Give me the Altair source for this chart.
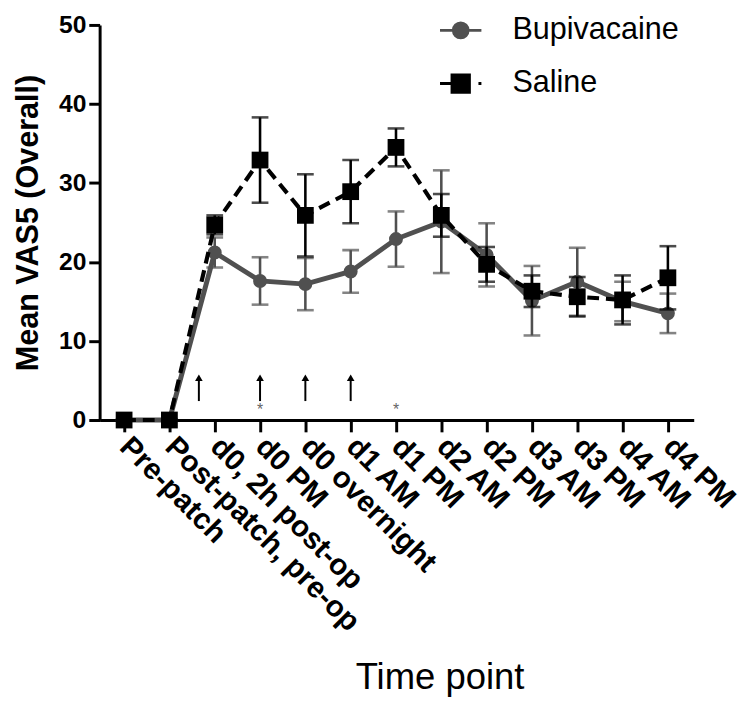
import altair as alt
import pandas as pd

# ---- data ----
timepoints = ["Pre-patch", "Post-patch, pre-op", "d0, 2h post-op", "d0 PM",
              "d0 overnight", "d1 AM", "d1 PM", "d2 AM", "d2 PM", "d3 AM",
              "d3 PM", "d4 AM", "d4 PM"]
bupi_mean = [0, 0, 21.2, 17.6, 17.2, 18.8, 22.9, 25.1, 20.9, 15.1, 17.5, 15.0, 13.5]
bupi_err = [0, 0, 1.9, 3.0, 3.3, 2.7, 3.5, 6.5, 4.0, 4.4, 4.3, 2.5, 2.5]
saline_mean = [0, 0, 24.7, 32.9, 25.9, 28.9, 34.5, 25.9, 19.7, 16.3, 15.6, 15.2, 18.0]
saline_err = [0, 0, 1.2, 5.4, 5.2, 4.0, 2.4, 2.7, 2.2, 2.0, 2.5, 3.1, 4.0]
series_names = ["Bupivacaine", "Saline"]
series_colors = ["#505050", "#000000"]
arrow_pos = [1.65, 3, 4, 5]
arrow_bottom = [2.4, 2.4, 2.4, 2.4]
arrow_top = [5.2, 5.2, 5.2, 5.2]
arrow_head = [5.35, 5.35, 5.35, 5.35]
star_pos = [3, 6]
star_y = [1.2, 1.2]

FONT = "Liberation Sans"


def frame(mean, err):
    return pd.DataFrame({
        "idx": list(range(len(timepoints))),
        "mean": mean,
        "lo": [m - e for m, e in zip(mean, err)],
        "hi": [m + e for m, e in zip(mean, err)],
    })


bupi_df = frame(bupi_mean, bupi_err)
sal_df = frame(saline_mean, saline_err)
arrow_df = pd.DataFrame({"idx": arrow_pos, "lo": arrow_bottom, "hi": arrow_top, "head": arrow_head})
star_df = pd.DataFrame({"idx": star_pos, "y": star_y})
legend_df = pd.DataFrame({"series": series_names})

label_expr = "[" + ",".join("'" + t + "'" for t in timepoints) + "][datum.value]"

x_enc = alt.X(
    "idx:Q",
    scale=alt.Scale(domain=[-0.54, 12.57], nice=False, zero=False),
    axis=alt.Axis(
        values=list(range(len(timepoints))),
        labelExpr=label_expr,
        labelAngle=45, labelAlign="left", labelBaseline="middle",
        labelFont=FONT, labelFontSize=30, labelFontWeight="bold", labelColor="black",
        labelPadding=10, labelOverlap=False, labelBound=False, labelFlush=False,
        labelLimit=0,
        tickSize=12, tickWidth=3, tickColor="black",
        domainWidth=3, domainColor="black", grid=False,
        title="Time point", titleFont=FONT, titleFontSize=37, titleFontWeight="normal",
        titleColor="black", titleX=345, titleY=273, titleAlign="center",
        titleBaseline="alphabetic",
    ),
)
y_scale = alt.Scale(domain=[0, 50], nice=False)
y_axis = alt.Axis(
    values=[0, 10, 20, 30, 40, 50],
    labelFont=FONT, labelFontSize=25, labelFontWeight="bold", labelColor="black",
    labelPadding=3, tickSize=11, tickWidth=3, tickColor="black",
    domainWidth=3, domainColor="black", grid=False,
    title="Mean VAS5 (Overall)", titleFont=FONT, titleFontSize=31,
    titleFontWeight="bold", titleColor="black", titlePadding=14,
)


def series_layers(df, color, shape, size, dash, line_w):
    base = alt.Chart(df)
    rules = base.mark_rule(color=color, strokeWidth=2.6).encode(
        x=x_enc, y=alt.Y("lo:Q", scale=y_scale, axis=y_axis), y2="hi:Q")
    cap_lo = base.mark_tick(color=color, orient="horizontal", size=17, thickness=2.6).encode(
        x="idx:Q", y="lo:Q")
    cap_hi = base.mark_tick(color=color, orient="horizontal", size=17, thickness=2.6).encode(
        x="idx:Q", y="hi:Q")
    line_kwargs = dict(color=color, strokeWidth=line_w)
    if dash:
        line_kwargs["strokeDash"] = dash
    line = base.mark_line(**line_kwargs).encode(x="idx:Q", y="mean:Q")
    pts = base.mark_point(filled=True, shape=shape, size=size, color=color, opacity=1).encode(
        x="idx:Q", y="mean:Q")
    return [rules, cap_lo, cap_hi, line, pts]


bupi_layers = series_layers(bupi_df, series_colors[0], "circle", 200, None, 5)
sal_layers = series_layers(sal_df, series_colors[1], "square", 290, [12, 7], 4.2)

arrows = alt.Chart(arrow_df).mark_rule(color="black", strokeWidth=2).encode(
    x="idx:Q", y="lo:Q", y2="hi:Q")
heads = alt.Chart(arrow_df).mark_point(shape="triangle-up", filled=True, size=60,
                                       color="black", opacity=1).encode(x="idx:Q", y="head:Q")
stars = alt.Chart(star_df).mark_text(text="*", fontSize=16, color="#666666", font=FONT,
                                     baseline="middle").encode(x="idx:Q", y="y:Q")

# legend symbols: unit box is 20px, paths extend to +-2.1 units (42px wide)
bupi_symbol = ("M-2.1,0H2.1 M-0.75,0 A0.75,0.75 0 1,0 0.75,0 A0.75,0.75 0 1,0 -0.75,0 Z")
sal_symbol = ("M-2.1,0H-0.85 M-0.88,-0.88H0.88V0.88H-0.88Z M1.8,0H2.1")

legend_layer = alt.Chart(legend_df).transform_filter("false").mark_point(
    filled=True, strokeWidth=3, opacity=1).encode(
    shape=alt.Shape("series:N", scale=alt.Scale(domain=series_names, range=[bupi_symbol, sal_symbol]),
                    legend=alt.Legend(
                        title=None, orient="none", legendX=351, legendY=-10,
                        labelFont=FONT, labelFontSize=31, labelColor="black", labelLimit=0,
                        symbolSize=400, symbolStrokeWidth=3, rowPadding=22,
                        labelOffset=37, padding=0, symbolOpacity=1)),
    fill=alt.Fill("series:N", scale=alt.Scale(domain=series_names, range=series_colors), legend=None),
    stroke=alt.Stroke("series:N", scale=alt.Scale(domain=series_names, range=series_colors), legend=None),
)

chart = alt.layer(
    *bupi_layers, *sal_layers, arrows, heads, stars, legend_layer
).properties(
    width=603, height=401, padding={"left": 5, "top": 0, "right": 2, "bottom": 0}
).configure_view(stroke=None)

chart.save("out.html", embed_options={"renderer": "svg", "actions": False})
